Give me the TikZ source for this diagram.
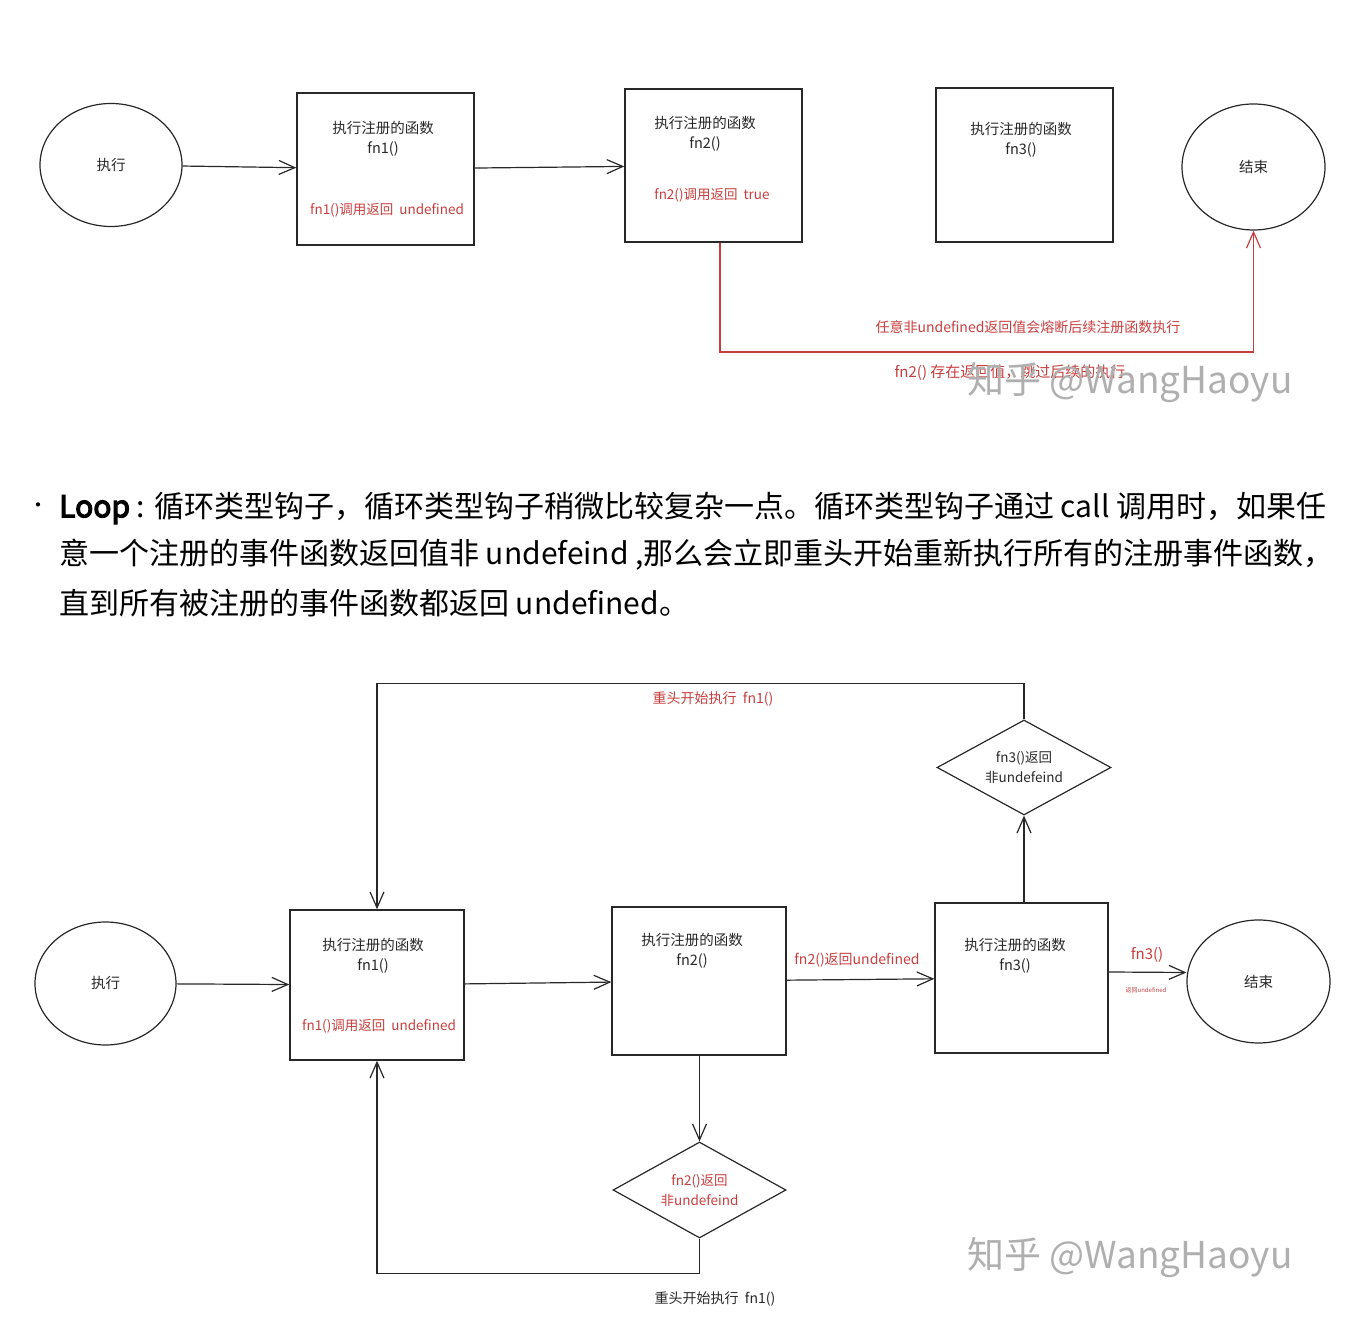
\documentclass[tikz,border=0pt]{standalone}
\usepackage{fontspec}
\newfontfamily\cjk[AutoFakeBold=4]{Noto Sans CJK SC}
\usetikzlibrary{shapes.geometric,arrows.meta,positioning}
\definecolor{hookred}{RGB}{200,62,62}
\definecolor{inkgray}{RGB}{40,40,40}
\definecolor{markgray}{RGB}{175,175,175}
\tikzset{
  box/.style={draw=inkgray, line width=1.4pt, minimum width=176pt, minimum height=152pt, inner sep=0pt},
  term/.style={ellipse, draw=inkgray, line width=1.2pt, minimum width=142pt, minimum height=123pt,
    font=\cjk\fontsize{14.5}{18}\selectfont, text=inkgray},
  choice/.style={diamond, draw=inkgray, line width=1.2pt, minimum width=174pt, minimum height=95pt,
    aspect=1.8, inner sep=-10pt, align=center, font=\cjk\fontsize{13.5}{20}\selectfont, text=inkgray},
  arr/.style={-{Straight Barb[length=16pt,width=14pt]}, line width=1.2pt, draw=inkgray},
  title/.style={font=\cjk\fontsize{14.5}{20}\selectfont, text=inkgray, align=center},
  note/.style={font=\cjk\fontsize{13.5}{16}\selectfont, text=hookred},
  para/.style={font=\cjk\fontsize{30}{36}\selectfont, anchor=west, text=black, inner sep=0pt},
  wmark/.style={font=\cjk\fontsize{37}{44}\selectfont, text=markgray},
}
\begin{document}
\begin{tikzpicture}[x=1pt, y=1pt]
    \useasboundingbox (0,0) rectangle (1346,1336);

    % top: bail hook
    \node[term] (runA) at (111,1171) {执行};
    \node[box, minimum width=177pt, minimum height=152pt] (fnA1) at (385.5,1167) {};
    \node[box, minimum width=177pt, minimum height=153pt] (fnA2) at (713.5,1170.5) {};
    \node[box, minimum width=177pt, minimum height=154pt] (fnA3) at (1024.5,1171) {};
    \node[term, minimum width=143pt, minimum height=126pt] (endA) at (1253.5,1169) {结束};

    \node[title] (tA1) at (383,1197) {执行注册的函数\\fn1()};
    \node[note] (nA1) at (387,1126) {fn1()调用返回\ \ undefined};
    \node[title] (tA2) at (705,1202) {执行注册的函数\\fn2()};
    \node[note] (nA2) at (712,1141) {fn2()调用返回\ \ true};
    \node[title] (tA3) at (1021,1196) {执行注册的函数\\fn3()};

    \draw[arr] (runA) -- (fnA1);
    \draw[arr] (fnA1) -- (fnA2);
    \coordinate (cutA) at (720,984);
    \draw[arr, draw=hookred] (fnA2.south -| cutA) -- (cutA) -| (endA.south);
    \node[note, font=\cjk\fontsize{14}{16}\selectfont] (nA3) at (1028,1009) {任意非undefined返回值会熔断后续注册函数执行};
    \node[note, font=\cjk\fontsize{15}{18}\selectfont] (nA4) at (1010,963) {fn2() 存在返回值，跳过后续的执行};
    \node[wmark] (wmA) at (1130,953) {知乎 @WangHaoyu};

    % text
    \node[para, font=\cjk\fontsize{20}{24}\selectfont] (dot) at (28,828) {•};
    \node[para] (lineA) at (59,828) {{\bfseries Loop} : 循环类型钩子，循环类型钩子稍微比较复杂一点。循环类型钩子通过 call 调用时，如果任};
    \node[para] (lineB) at (59,781) {意一个注册的事件函数返回值非 undefeind ,那么会立即重头开始重新执行所有的注册事件函数，};
    \node[para] (lineC) at (59,733) {直到所有被注册的事件函数都返回 undefined。};

    % bottom: loop hook
    \node[term, minimum width=141pt] (runB) at (105.5,352.5) {执行};
    \node[box, minimum width=174pt, minimum height=150pt] (fnB1) at (377,351) {};
    \node[box, minimum width=174pt, minimum height=148pt] (fnB2) at (699,355) {};
    \node[box, minimum width=173pt, minimum height=150pt] (fnB3) at (1021.5,358) {};
    \node[term, minimum width=143pt] (endB) at (1258.5,354.5) {结束};
    \node[choice] (chkB3) at (1024,568.5) {fn3()返回\\非undefeind};
    \node[choice, text=hookred, minimum width=173pt, minimum height=96pt] (chkB2) at (699.5,146) {fn2()返回\\非undefeind};

    \node[title] (tB1) at (373,380) {执行注册的函数\\fn1()};
    \node[note] (nB1) at (379,310) {fn1()调用返回\ \ undefined};
    \node[title] (tB2) at (692,385) {执行注册的函数\\fn2()};
    \node[title] (tB3) at (1015,380) {执行注册的函数\\fn3()};

    \draw[arr] (runB) -- (fnB1);
    \draw[arr] (fnB1) -- (fnB2);
    \draw[arr] (fnB2) -- (fnB3);
    \node[note, font=\cjk\fontsize{14}{16}\selectfont] (nB2) at (857,376) {fn2()返回undefined};
    \draw[arr] ([yshift=6pt]fnB3.east) -- ([yshift=9pt]endB.west);
    \node[note, font=\cjk\fontsize{15}{16}\selectfont] (nB3) at (1147,381) {fn3()};
    \node[note, font=\cjk\fontsize{6}{7}\selectfont] (nB4) at (1146,346) {返回undefined};

    \draw[arr] (fnB3.north -| chkB3) -- (chkB3.south);
    \draw[arr] (chkB3.north) -- ++(0,36) -| (fnB1.north);
    \node[note, font=\cjk\fontsize{14}{16}\selectfont] (nB5) at (713,637) {重头开始执行\ \ fn1()};

    \draw[arr] (fnB2.south -| chkB2) -- (chkB2.north);
    \draw[arr] (chkB2.south) -- ++(0,-35) -| (fnB1.south);
    \node[title, font=\cjk\fontsize{14}{16}\selectfont] (nB6) at (715,37) {重头开始执行\ \ fn1()};
    \node[wmark] (wmB) at (1130,78) {知乎 @WangHaoyu};
\end{tikzpicture}
\end{document}
